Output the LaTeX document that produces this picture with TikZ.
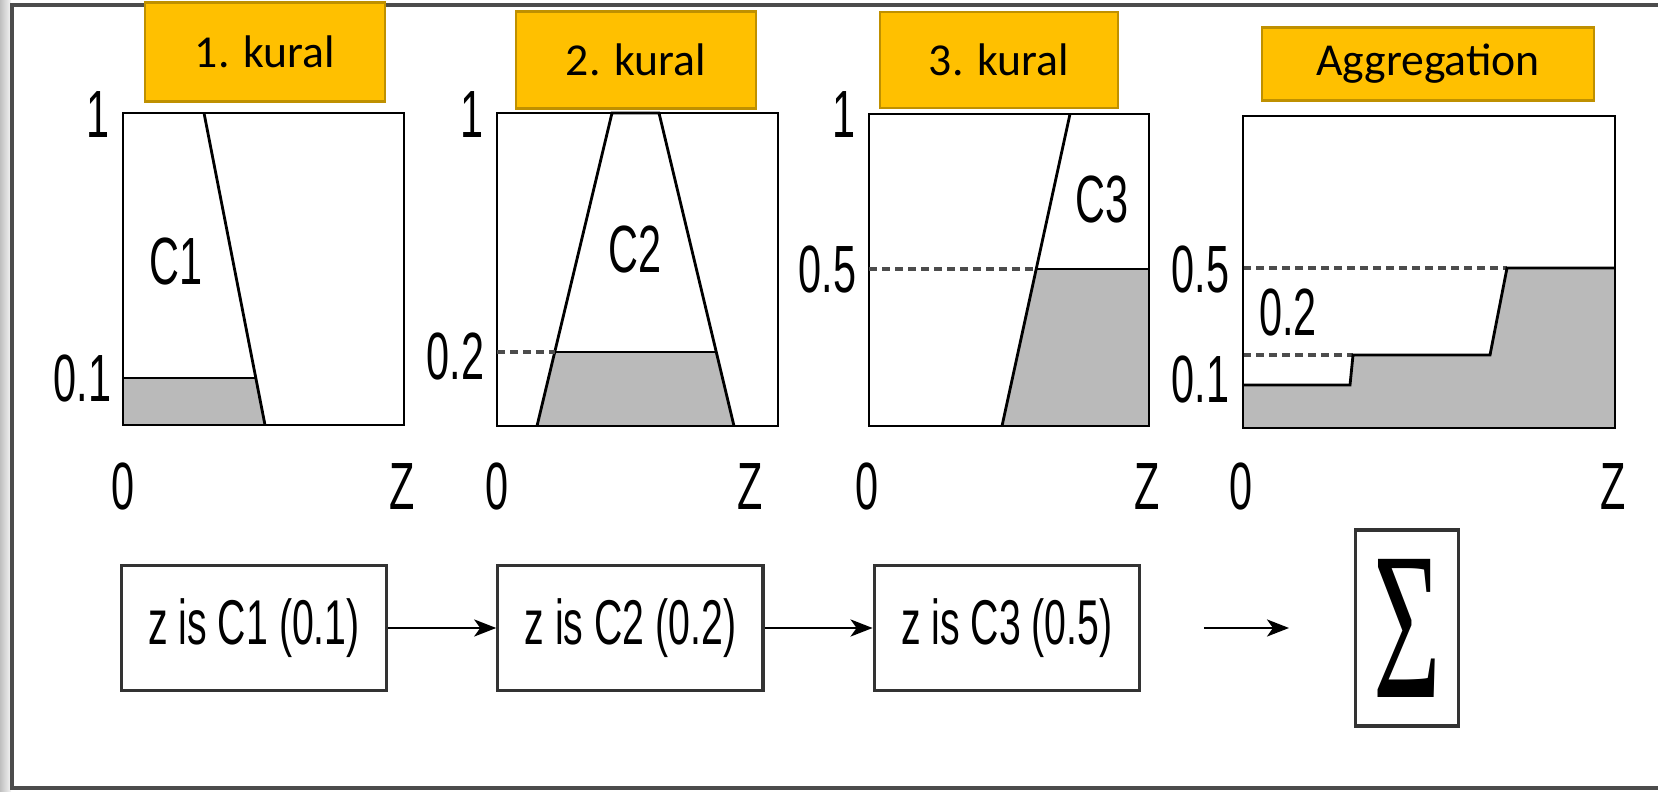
\documentclass[tikz,border=0pt]{standalone}
\usepackage{fontspec}
\setmainfont{Carlito}
\newfontfamily\bookfont[FakeStretch=0.62]{Liberation Sans}
\newfontfamily\sigmafont[FakeStretch=0.55]{Liberation Serif}
\usepackage{tikz}
\usetikzlibrary{positioning,arrows.meta}
\definecolor{kuralgold}{HTML}{FFC000}
\definecolor{kuraledge}{HTML}{BF9000}

\begin{document}
\begin{tikzpicture}[
  x=0.01cm, y=-0.01cm,
  node distance=1.08cm,
  ruletitle/.style={draw=kuraledge, fill=kuralgold, line width=0.6pt, minimum width=2.39cm, minimum height=0.97cm, font=\fontsize{13}{15}\selectfont, inner sep=0pt},
  lbl/.style={inner sep=0pt, font=\bookfont\fontsize{19}{22}\selectfont},
  rulebox/.style={draw=black!80, line width=0.9pt, minimum width=2.65cm, minimum height=1.25cm, font=\bookfont\fontsize{18}{21}\selectfont, inner sep=0pt},
  axisbox/.style={line width=0.8pt},
  cutfill/.style={fill=black!27},
  levelline/.style={black!70, line width=1pt, dash pattern=on 0.08cm off 0.05cm},
  arr/.style={-{Stealth[length=0.22cm, width=0.17cm, inset=0.06cm]}, line width=0.8pt}
]
  \useasboundingbox (0,0) rectangle (1658,792);
  \fill[left color=black!25, right color=black!4] (0,0) rectangle (11,792);
  \draw[black!70, line width=1pt] (1658,5) -- (12,5) -- (12,788) -- (1658,788);

  \fill[cutfill] (123,425) -- (123,378) -- (256,378) -- (265,425) -- cycle;
  \draw[axisbox] (123,113) rectangle (404,425);
  \draw[axisbox] (204,113) -- (265,425);
  \draw[axisbox] (123,378) -- (256,378);

  \fill[cutfill] (537,426) -- (555,352) -- (716,352) -- (734,426) -- cycle;
  \draw[axisbox] (497,113) rectangle (778,426);
  \draw[axisbox] (537,426) -- (612,113) -- (659,113) -- (734,426);
  \draw[levelline] (497,352) -- (555,352);
  \draw[axisbox] (555,352) -- (716,352);

  \fill[cutfill] (1002,426) -- (1036,269) -- (1149,269) -- (1149,426) -- cycle;
  \draw[axisbox] (869,114) rectangle (1149,426);
  \draw[axisbox] (1002,426) -- (1070,114);
  \draw[levelline] (869,269) -- (1036,269);
  \draw[axisbox] (1036,269) -- (1149,269);

  \fill[cutfill] (1243,428) -- (1243,385) -- (1350,385) -- (1353,355) -- (1490,355) -- (1507,268) -- (1615,268) -- (1615,428) -- cycle;
  \draw[levelline] (1243,268) -- (1507,268);
  \draw[levelline] (1243,355) -- (1353,355);
  \draw[axisbox] (1243,385) -- (1350,385) -- (1353,355) -- (1490,355) -- (1507,268) -- (1615,268);
  \draw[axisbox] (1243,116) rectangle (1615,428);

  \node[ruletitle, minimum height=0.99cm] (kural1) at (265,52) {1. kural};
  \node[ruletitle] (kural2) at (636,60) {2. kural};
  \node[ruletitle, minimum width=2.38cm, minimum height=0.96cm] (kural3) at (999,60) {3. kural};
  \node[ruletitle, minimum width=3.32cm, minimum height=0.73cm] (aggtitle) at (1428,64) {Aggregation};

  \node[lbl, anchor=east] (one1) at (110,115) {1};
  \node[lbl, anchor=east] (one2) at (484,115) {1};
  \node[lbl, anchor=east] (one3) at (856,115) {1};
  \node[lbl, anchor=east] (mu1) at (112,379) {0.1};
  \node[lbl, anchor=east] (mu2) at (485,357) {0.2};
  \node[lbl, anchor=east] (mu3) at (857,270) {0.5};
  \node[lbl, anchor=east] (mu4a) at (1230,270) {0.5};
  \node[lbl, anchor=east] (mu4b) at (1230,380) {0.1};
  \node[lbl] (mu4c) at (1288,313) {0.2};
  \node[lbl] (cset1) at (176,262) {C1};
  \node[lbl] (cset2) at (635,250) {C2};
  \node[lbl] (cset3) at (1102,200) {C3};

  \node[lbl] (zero1) at (123,487) {0};
  \node[lbl] (zend1) at (402,487) {Z};
  \node[lbl] (zero2) at (497,487) {0};
  \node[lbl] (zend2) at (750,487) {Z};
  \node[lbl] (zero3) at (867,487) {0};
  \node[lbl] (zend3) at (1147,487) {Z};
  \node[lbl] (zero4) at (1241,487) {0};
  \node[lbl] (zend4) at (1613,487) {Z};

  \node[rulebox] (zc1) at (254,628) {z is C1 (0.1)};
  \node[rulebox, right=of zc1] (zc2) {z is C2 (0.2)};
  \node[rulebox, right=of zc2] (zc3) {z is C3 (0.5)};
  \node[draw=black!80, line width=0.9pt, minimum width=1.03cm, minimum height=1.96cm, inner sep=0pt, right=2.13cm of zc3] (sumbox) {\sigmafont\fontsize{60}{60}\selectfont Σ};

  \draw[arr] (zc1) -- (zc2);
  \draw[arr] (zc2) -- (zc3);
  \draw[arr, shorten <=0.63cm, shorten >=0.65cm] (zc3.east) -- (zc3.east -| sumbox.west);
\end{tikzpicture}
\end{document}
